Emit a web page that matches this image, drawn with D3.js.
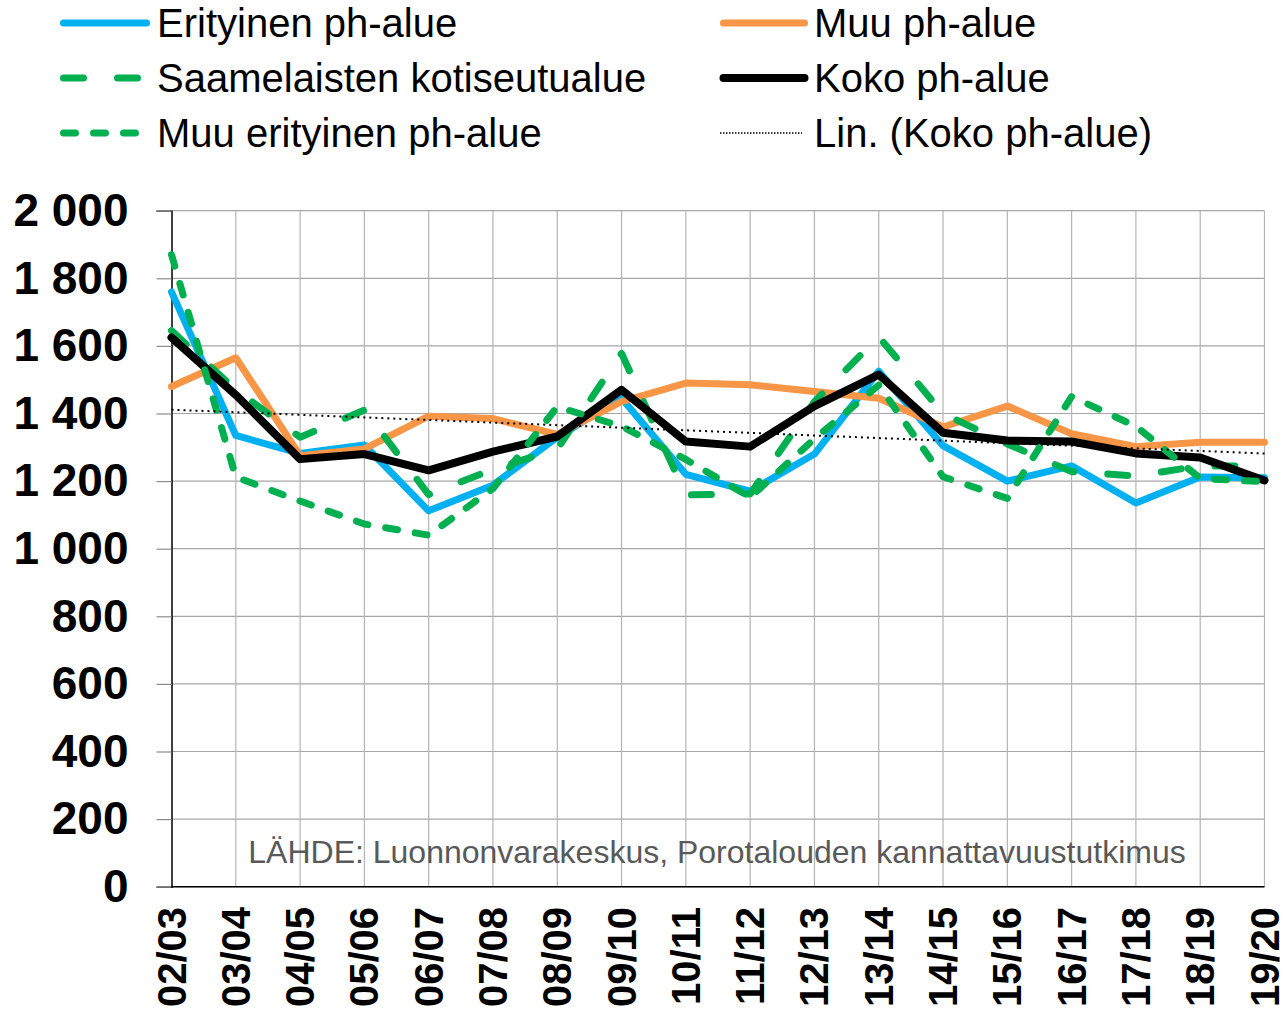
<!DOCTYPE html>
<html>
<head>
<meta charset="utf-8">
<script src="https://cdn.jsdelivr.net/npm/d3@7"></script>
<style>
  body { margin: 0; background: #fff; }
  svg { display: block; font-family: "Liberation Sans", Arial, sans-serif; }
</style>
</head>
<body>
<div id="container"></div>
<script>
// data
var categories = ["02/03","03/04","04/05","05/06","06/07","07/08","08/09","09/10","10/11",
                  "11/12","12/13","13/14","14/15","15/16","16/17","17/18","18/19","19/20"];
var erityinen    = [1760,1335,1282,1307,1112,1188,1330,1445,1220,1170,1280,1525,1305,1200,1245,1135,1212,1210];
var muuAlue      = [1480,1565,1275,1295,1392,1385,1338,1435,1490,1485,1465,1445,1360,1422,1340,1302,1315,1315];
var saamelaisten = [1645,1470,1330,1410,1160,1235,1295,1578,1159,1162,1435,1627,1400,1310,1228,1215,1245,1245];
var koko         = [1625,1455,1265,1280,1232,1287,1332,1470,1317,1302,1422,1515,1343,1320,1317,1282,1270,1202];
var muuErityinen = [1870,1212,1141,1073,1040,1178,1420,1362,1264,1152,1325,1484,1213,1149,1450,1362,1208,1198];
var yTicks = [0,200,400,600,800,1000,1200,1400,1600,1800,2000];
var sourceText = "LÄHDE: Luonnonvarakeskus, Porotalouden kannattavuustutkimus";

var W = 1283, H = 1014;
// plot area (note: "top" is reserved on window, so prefixed names)
var plotL = 171.5, plotR = 1264.5, plotT = 210.7, plotB = 886.7;

var svg = d3.select("#container").append("svg")
    .attr("width", W).attr("height", H);

var x = d3.scalePoint().domain(categories).range([plotL, plotR]);
var y = d3.scaleLinear().domain([0, 2000]).range([plotB, plotT]);

var fmt = d3.formatLocale({decimal: ",", thousands: " ", grouping: [3], currency: ["", ""]}).format(",d");

// gridlines
svg.append("g").selectAll("line").data(yTicks).enter().append("line")
    .attr("x1", plotL).attr("x2", plotR)
    .attr("y1", d => y(d)).attr("y2", d => y(d))
    .attr("stroke", "#a6a6a6").attr("stroke-width", 1.2);
svg.append("g").selectAll("line").data(categories.slice(1)).enter().append("line")
    .attr("x1", d => x(d)).attr("x2", d => x(d))
    .attr("y1", plotT).attr("y2", plotB)
    .attr("stroke", "#b4b4b4").attr("stroke-width", 1.2);

// y axis
var yAxis = svg.append("g")
    .attr("transform", "translate(" + plotL + ",0)")
    .call(d3.axisLeft(y).tickValues(yTicks).tickSize(15).tickPadding(28).tickFormat(fmt));
yAxis.select(".domain").attr("stroke", "#000").attr("stroke-width", 1.5);
yAxis.selectAll(".tick line").attr("stroke", "#8c8c8c").attr("stroke-width", 1.2);
yAxis.selectAll("text").attr("font-size", 46).attr("font-weight", "bold")
    .attr("fill", "#000").attr("font-family", "'Liberation Sans', Arial, sans-serif");

// x axis line + rotated labels
svg.append("line").attr("x1", plotL).attr("x2", plotR)
    .attr("y1", plotB).attr("y2", plotB)
    .attr("stroke", "#000").attr("stroke-width", 1.5);
svg.append("g").selectAll("text").data(categories).enter().append("text")
    .attr("transform", d => "translate(" + x(d) + ",907) rotate(-90)")
    .attr("text-anchor", "end")
    .attr("dominant-baseline", "central")
    .attr("font-size", 40).attr("font-weight", "bold")
    .text(d => d);

// source note
svg.append("text").attr("x", 717).attr("y", 863)
    .attr("text-anchor", "middle")
    .attr("font-size", 32).attr("fill", "#595959")
    .text(sourceText);

// linear trend of Koko ph-alue
var mx = d3.mean(koko, (d, i) => i), my = d3.mean(koko);
var sxy = d3.sum(koko, (d, i) => (i - mx) * (d - my));
var sxx = d3.sum(koko, (d, i) => (i - mx) * (i - mx));
var slope = sxy / sxx, icpt = my - slope * mx;
var trend = categories.map((c, i) => icpt + slope * i);

var series = [
  {name: "Erityinen ph-alue", values: erityinen, color: "#00B0F0", width: 7, dash: null},
  {name: "Muu ph-alue", values: muuAlue, color: "#F79646", width: 7, dash: null},
  {name: "Saamelaisten kotiseutualue", values: saamelaisten, color: "#00B050", width: 7, dash: "20,34"},
  {name: "Koko ph-alue", values: koko, color: "#000000", width: 8, dash: null},
  {name: "Muu erityinen ph-alue", values: muuErityinen, color: "#00B050", width: 7, dash: "12,18"},
  {name: "Lin. (Koko ph-alue)", values: trend, color: "#000000", width: 2, dash: "2,4", trend: true}
];

var line = d3.line().x((d, i) => x(categories[i])).y(d => y(d));

svg.append("g").selectAll("path").data(series).enter().append("path")
    .attr("d", d => line(d.values))
    .attr("fill", "none")
    .attr("stroke", d => d.color)
    .attr("stroke-width", d => d.width)
    .attr("stroke-dasharray", d => d.dash)
    .attr("stroke-linecap", d => d.trend ? "butt" : "round")
    .attr("stroke-linejoin", "round");

// legend (row-major, 2 columns)
var legendPos = [
  {x1: 63.5, x2: 146.5, tx: 157, cy: 23},
  {x1: 723.5, x2: 804.5, tx: 814, cy: 23},
  {x1: 63.5, x2: 146.5, tx: 157, cy: 78},
  {x1: 723.5, x2: 804.5, tx: 814, cy: 78},
  {x1: 63.5, x2: 146.5, tx: 157, cy: 133},
  {x1: 720, x2: 802, tx: 814, cy: 133}
];
var lg = svg.append("g").selectAll("g").data(series).enter().append("g");
lg.append("line")
    .attr("x1", (d, i) => legendPos[i].x1).attr("x2", (d, i) => legendPos[i].x2)
    .attr("y1", (d, i) => legendPos[i].cy).attr("y2", (d, i) => legendPos[i].cy)
    .attr("stroke", d => d.color)
    .attr("stroke-width", d => d.trend ? 1.5 : d.width)
    .attr("stroke-dasharray", d => d.trend ? "1.5,1.5" : d.dash)
    .attr("stroke-linecap", d => d.trend ? "butt" : "round");
lg.append("text")
    .attr("x", (d, i) => legendPos[i].tx)
    .attr("y", (d, i) => legendPos[i].cy + 14)
    .attr("font-size", 40).attr("fill", "#000")
    .text(d => d.name);
</script>
</body>
</html>
